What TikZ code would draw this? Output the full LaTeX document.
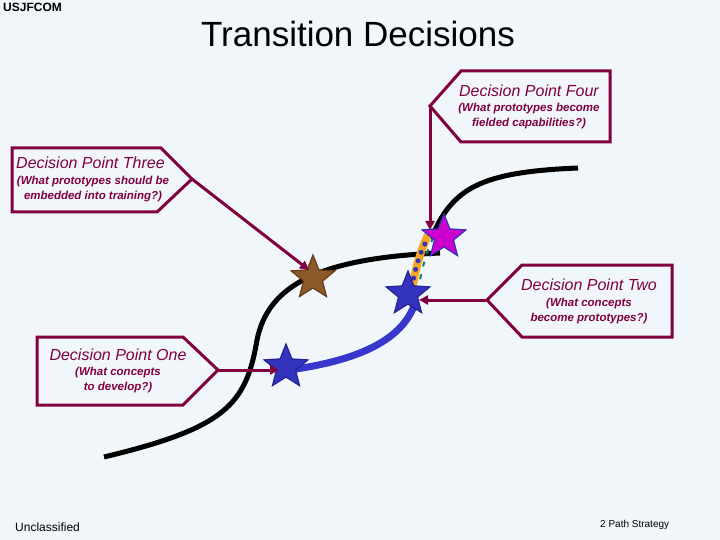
\documentclass[tikz,border=0pt]{standalone}
\usepackage{fontspec}
\setmainfont{Liberation Sans}
\usetikzlibrary{shapes.geometric,arrows.meta}
\definecolor{bg}{RGB}{240,246,250}
\definecolor{maroon}{RGB}{128,0,64}
\definecolor{starblue}{RGB}{51,51,190}
\definecolor{starblueline}{RGB}{35,35,150}
\definecolor{brownstar}{RGB}{140,90,40}
\definecolor{brownline}{RGB}{100,60,25}
\definecolor{magstar}{RGB}{205,0,205}
\definecolor{pathblue}{RGB}{55,55,205}
\definecolor{orangeband}{RGB}{245,166,35}
\definecolor{greendash}{RGB}{30,120,90}
\tikzset{
  callout/.style={draw=maroon, line width=3pt, line join=miter, fill=bg},
  pointer/.style={draw=maroon, line width=3pt, -{Triangle[length=9pt,width=9pt]}},
  starnode/.style={star, star points=5, star point ratio=2.3, minimum size=46pt, inner sep=0pt, line width=1.2pt},
  ttl/.style={text=maroon, font=\fontsize{16}{18}\selectfont\itshape, inner sep=0pt},
  sub/.style={text=maroon, font=\fontsize{11.5}{14.5}\selectfont\bfseries\itshape, inner sep=0pt, align=center},
  curve/.style={line width=5pt, black}
}
\begin{document}
\begin{tikzpicture}[x=1pt,y=-1pt]
\fill[bg] (0,0) rectangle (720,540);
\useasboundingbox (0,0) rectangle (720,540);

% header / footer
\node[anchor=north west, inner sep=0pt, font=\fontsize{12}{13}\selectfont\bfseries] (org) at (3,3) {USJFCOM};
\node[inner sep=0pt, font=\fontsize{35}{38}\selectfont] (title) at (358,34) {Transition Decisions};
\node[anchor=west, inner sep=0pt, font=\fontsize{12}{14}\selectfont] (uncl) at (15,527) {Unclassified};
\node[anchor=west, inner sep=0pt, font=\fontsize{10}{12}\selectfont] (foot) at (600,525) {2 Path Strategy};

% black paths
\draw[curve] (104,457) .. controls (225,428) and (246,405) .. (257,340)
  .. controls (268,285) and (320,258) .. (440,253);
\draw[curve] (431,239) .. controls (452,188) and (480,172) .. (578,168);

% blue path
\draw[line width=7pt, pathblue, line cap=round] (296,369) .. controls (355,360) and (400,342) .. (414,306);

% orange dotted band
\draw[line width=8pt, orangeband] (412,291) .. controls (415,270) and (420,252) .. (428,235);
\draw[line width=2pt, greendash, dash pattern=on 5pt off 8pt] (418,292) .. controls (421,271) and (426,253) .. (434,236);
\draw[line width=5pt, starblue, line cap=round, dash pattern=on 0pt off 9pt] (412,287) .. controls (415,268) and (420,252) .. (428,238);

% stars
\node[starnode, fill=brownstar, draw=brownline] (sBrown) at (313,278) {};
\node[starnode, fill=magstar, draw=starblue] (sMag) at (444,237) {};
\node[starnode, fill=starblue, draw=starblueline] (sTwo) at (408,294) {};
\node[starnode, fill=starblue, draw=starblueline] (sOne) at (286,367) {};

% callout four
\draw[callout] (461,71) -- (610,71) -- (610,142) -- (461,142) -- (430,106) -- cycle;
\coordinate (p4) at (430,106);
\coordinate (t4) at (430,230);
\draw[pointer] (p4) -- (t4);
\node[ttl] (h4) at (529,91) {Decision Point Four};
\node[sub] (b4) at (529,116) {(What prototypes become\\fielded capabilities?)};

% callout three
\draw[callout] (12,148) -- (161,148) -- (192,179) -- (157,212) -- (12,212) -- cycle;
\coordinate (p3) at (192,179);
\coordinate (t3) at (309,270);
\draw[pointer] (p3) -- (t3);
\node[ttl, anchor=west] (h3) at (16,163) {Decision Point Three};
\node[sub] (b3) at (93,189) {(What prototypes should be\\embedded into training?)};

% callout two
\draw[callout] (522,265) -- (672,265) -- (672,337) -- (522,337) -- (487,300) -- cycle;
\coordinate (p2) at (487,300);
\coordinate (t2) at (419,300);
\draw[pointer] (p2) -- (t2);
\node[ttl] (h2) at (589,285) {Decision Point Two};
\node[sub] (b2) at (589,311) {(What concepts\\become prototypes?)};

% callout one
\draw[callout] (37,337) -- (183,337) -- (218,370) -- (183,405) -- (37,405) -- cycle;
\coordinate (p1) at (218,370);
\coordinate (t1) at (279,370);
\draw[pointer] (p1) -- (t1);
\node[ttl] (h1) at (118,355) {Decision Point One};
\node[sub] (b1) at (118,380) {(What concepts\\to develop?)};
\end{tikzpicture}
\end{document}
